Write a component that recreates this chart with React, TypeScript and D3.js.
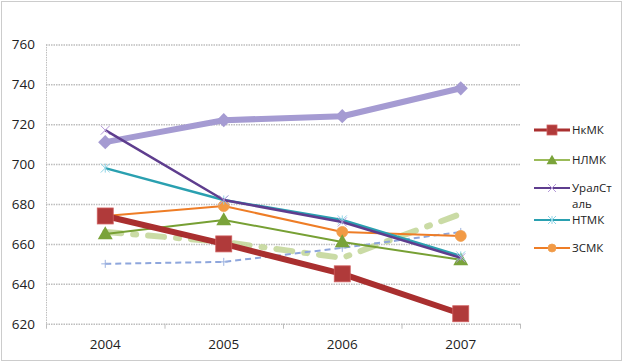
import React, { useEffect, useRef } from "react";
import * as d3 from "d3";

const years = ["2004", "2005", "2006", "2007"];
const yTicks = [620, 640, 660, 680, 700, 720, 740, 760];

const nkmk = [674, 660, 645, 625];
const nlmk = [665, 672, 661, 652];
const uralstal = [717, 682, 671, 653];
const ntmk = [698, 682, 672, 654];
const zsmk = [674, 679, 666, 664];
const lavender = [711, 722, 724, 738];
const blueDash = [650, 651, 658, 666];
const limeDash = [666, 661, 653, 675];

const legendNames = ["НкМК", "НЛМК", "УралСт|аль", "НТМК", "ЗСМК"];

const W = 623;
const H = 362;
const font = "'Open Sans', sans-serif";

const App = () => {
  const ref = useRef<SVGSVGElement>(null);

  useEffect(() => {
    const svg = d3.select(ref.current);
    svg.selectAll("*").remove();

    const x = d3.scaleBand().domain(years).range([46, 520]);
    const cx = (i: number) => (x(years[i]) as number) + x.bandwidth() / 2;
    const y = d3.scaleLinear().domain([620, 760]).range([323.7, 44.4]);

    // frame
    svg
      .append("rect")
      .attr("x", 1.5)
      .attr("y", 1.5)
      .attr("width", W - 3)
      .attr("height", H - 3)
      .attr("fill", "white")
      .attr("stroke", "#999")
      .attr("stroke-dasharray", "1,1");

    // grid
    const yAxis = svg
      .append("g")
      .attr("transform", "translate(46,0)")
      .call(
        d3
          .axisLeft(y)
          .tickValues(yTicks)
          .tickSize(-474)
          .tickPadding(11)
          .tickFormat((d) => `${d}`)
      );
    yAxis.select(".domain").remove();
    yAxis
      .selectAll(".tick line")
      .attr("stroke", "#bdbdbd")
      .attr("stroke-width", 1.5)
      .attr("stroke-dasharray", "1.5,1");
    yAxis
      .selectAll(".tick text")
      .attr("font-family", font)
      .attr("font-size", 13.5)
      .attr("fill", "#222")
      .attr("x", -11);

    svg
      .append("line")
      .attr("x1", 46.5)
      .attr("x2", 46.5)
      .attr("y1", y(760))
      .attr("y2", y(620))
      .attr("stroke", "#bdbdbd")
      .attr("stroke-dasharray", "1.5,1");

    const xAxis = svg
      .append("g")
      .attr("transform", `translate(0,${y(620)})`)
      .call(d3.axisBottom(x).tickSize(0).tickPadding(16));
    xAxis.select(".domain").remove();
    xAxis
      .selectAll(".tick text")
      .attr("font-family", font)
      .attr("font-size", 13.5)
      .attr("fill", "#222");
    // category separator ticks
    svg
      .append("g")
      .selectAll("line")
      .data(d3.range(0, years.length + 1))
      .enter()
      .append("line")
      .attr("x1", (i) => 46.5 + i * x.bandwidth())
      .attr("x2", (i) => 46.5 + i * x.bandwidth())
      .attr("y1", y(620))
      .attr("y2", y(620) + 5)
      .attr("stroke", "#bdbdbd");

    const line = d3
      .line<number>()
      .x((d, i) => cx(i))
      .y((d) => y(d));

    const drawLine = (vals: number[], color: string, w: number, dash?: string) =>
      svg
        .append("path")
        .datum(vals)
        .attr("fill", "none")
        .attr("stroke", color)
        .attr("stroke-width", w)
        .attr("stroke-linejoin", "round")
        .attr("stroke-dasharray", dash || null)
        .attr("d", line);

    // lime dash-dot (no legend entry)
    drawLine(limeDash, "#c4d79b", 6, "16,12,3,12").attr("stroke-linecap", "round").attr("opacity", 0.9);
    // blue dashed with plus
    drawLine(blueDash, "#8ea6dc", 2, "6,4");
    blueDash.forEach((v, i) => {
      const g = svg.append("g").attr("stroke", "#9db3e0").attr("stroke-width", 1);
      g.append("line").attr("x1", cx(i) - 4).attr("x2", cx(i) + 4).attr("y1", y(v)).attr("y2", y(v));
      g.append("line").attr("x1", cx(i)).attr("x2", cx(i)).attr("y1", y(v) - 4).attr("y2", y(v) + 4);
    });

    // lavender thick with diamonds
    drawLine(lavender, "#a59bd2", 6);
    svg
      .append("g")
      .selectAll("path")
      .data(lavender)
      .enter()
      .append("path")
      .attr("d", d3.symbol(d3.symbolDiamond2, 130)())
      .attr("transform", (d, i) => `translate(${cx(i)},${y(d)})`)
      .attr("fill", "#a59bd2");

    const markers: Record<string, (g: any, px: number, py: number, c: string, s: number) => void> = {
      square: (g, px, py, c, s) =>
        g.append("rect").attr("x", px - s / 2).attr("y", py - s / 2).attr("width", s).attr("height", s).attr("fill", c).attr("stroke", "#d06060").attr("stroke-width", 0.8),
      triangle: (g, px, py, c, s) =>
        g.append("path").attr("d", d3.symbol(d3.symbolTriangle, s * s * 0.8)()).attr("transform", `translate(${px},${py + 1})`).attr("fill", c),
      cross: (g, px, py, c, s) => {
        g.append("path").attr("d", `M${px - s / 2},${py - s / 2}L${px + s / 2},${py + s / 2}M${px - s / 2},${py + s / 2}L${px + s / 2},${py - s / 2}`).attr("stroke", "#b59ad8").attr("stroke-width", 1);
      },
      star: (g, px, py, c, s) => {
        g.append("path").attr("d", `M${px - s / 2},${py - s / 2}L${px + s / 2},${py + s / 2}M${px - s / 2},${py + s / 2}L${px + s / 2},${py - s / 2}M${px},${py - s / 2}L${px},${py + s / 2}`).attr("stroke", "#8fd4e6").attr("stroke-width", 1);
      },
      circle: (g, px, py, c, s) =>
        g.append("circle").attr("cx", px).attr("cy", py).attr("r", s / 2).attr("fill", c).attr("stroke", "#f0a050").attr("stroke-width", 0.8),
    };

    const series = [
      { vals: zsmk, color: "#ee7d26", w: 2, m: "circle", mc: "#f29a45", ms: 11 },
      { vals: nlmk, color: "#77a034", w: 2, m: "triangle", mc: "#7aa33a", ms: 11 },
      { vals: ntmk, color: "#2aa0b0", w: 2.5, m: "star", mc: "#2aa0b0", ms: 9 },
      { vals: uralstal, color: "#5e3d8e", w: 2.5, m: "cross", mc: "#5e3d8e", ms: 9 },
      { vals: nkmk, color: "#a92f2f", w: 6, m: "square", mc: "#b03a3a", ms: 16 },
    ];
    series.forEach((s) => {
      drawLine(s.vals, s.color, s.w);
      const g = svg.append("g");
      s.vals.forEach((v, i) => markers[s.m](g, cx(i), y(v), s.mc, s.ms));
    });

    // legend
    const legendOrder = [
      { name: legendNames[0], ...series[4], ms: 10, w: 3 },
      { name: legendNames[1], ...series[1], ms: 8, w: 2, color: "#9bbb59" },
      { name: legendNames[2], ...series[3], ms: 8, w: 2 },
      { name: legendNames[3], ...series[2], ms: 8, w: 2 },
      { name: legendNames[4], ...series[0], ms: 8, w: 2 },
    ];
    const legendY = [130, 160, 188, 220, 248];
    const lg = svg.append("g");
    legendOrder.forEach((e, i) => {
      const ly = legendY[i];
      lg.append("line").attr("x1", 534).attr("x2", 570).attr("y1", ly).attr("y2", ly).attr("stroke", e.color).attr("stroke-width", e.w);
      markers[e.m](lg, 552, ly, e.mc, e.ms);
      const parts = e.name.split("|");
      parts.forEach((p, j) => {
        lg.append("text")
          .attr("x", 572)
          .attr("y", ly + 4 + j * 16)
          .attr("font-family", font)
          .attr("font-size", 11.5)
          .attr("fill", "#222")
          .text(p);
      });
    });
  }, []);

  return (
    <svg
      ref={ref}
      width={W}
      height={H}
      style={{ position: "absolute", left: 0, top: 0 }}
    />
  );
};

export default App;
